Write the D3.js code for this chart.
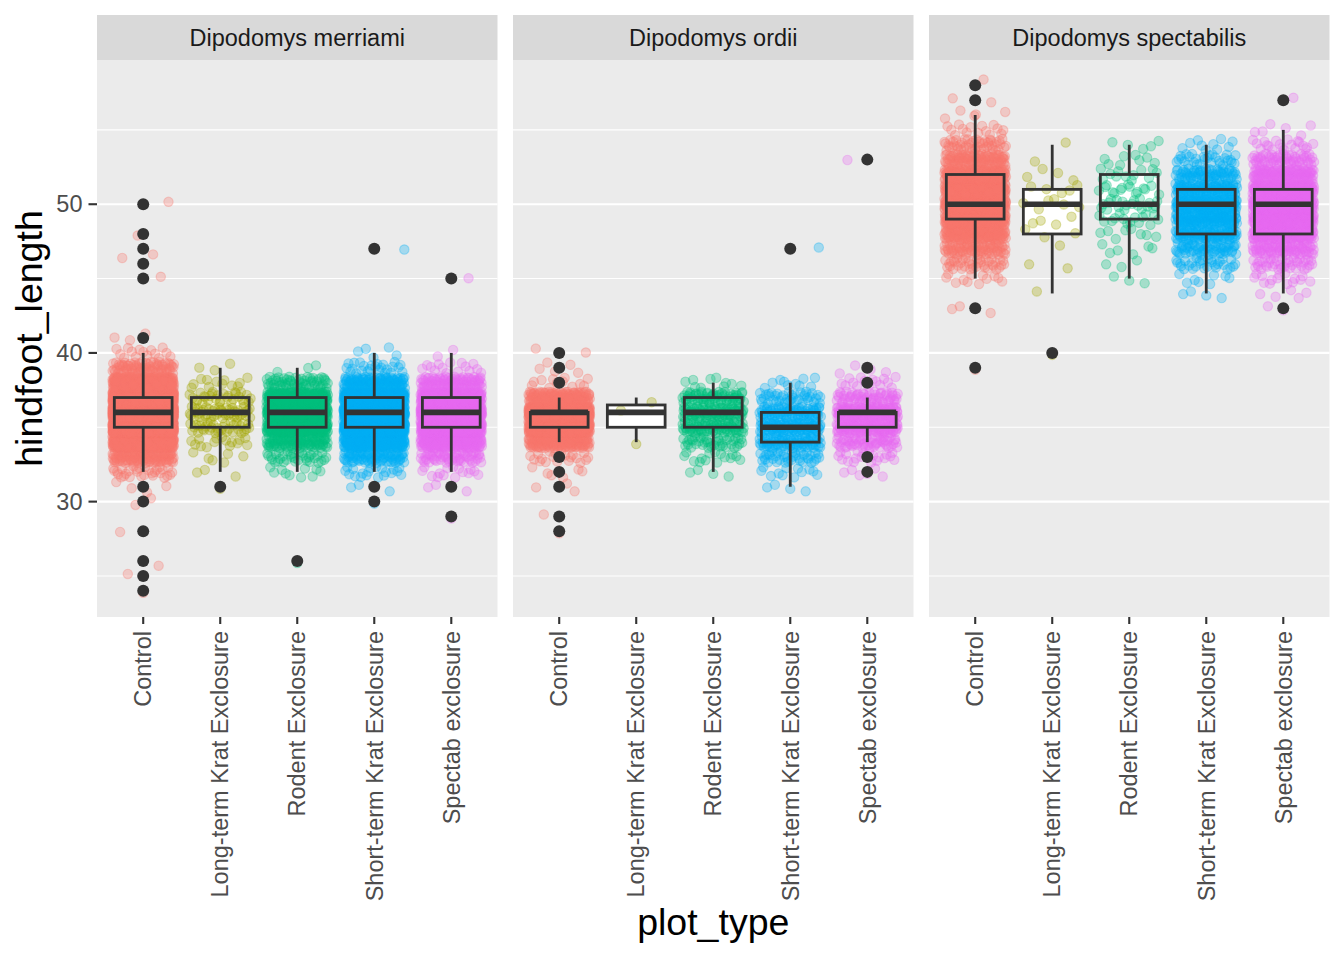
<!DOCTYPE html>
<html><head><meta charset="utf-8">
<script src="https://cdn.jsdelivr.net/npm/d3@7"></script>
<style>body{margin:0;background:#fff} svg{display:block} text{font-family:"Liberation Sans", Arial, Helvetica, sans-serif}</style>
</head><body><svg id="chart" width="1344" height="960"></svg>
<script>
// ---------------- data ----------------
const facets = ["Dipodomys merriami", "Dipodomys ordii", "Dipodomys spectabilis"];
const plotTypes = ["Control", "Long-term Krat Exclosure", "Rodent Exclosure", "Short-term Krat Exclosure", "Spectab exclosure"];
const typeColors = ["#F8766D", "#A3A500", "#00BF7D", "#00B0F6", "#E76BF3"];
const yMajorTicks = [30, 40, 50];
const yMinorTicks = [25, 35, 45, 55];
const yLimits = [22.24, 59.70];

// hindfoot_length counts per plot type: [value, count]
const merriamiCounts = [
  [[24,1],[25,1],[26,1],[28,1],[30,2],[31,4],[32,30],[33,120],[34,400],[35,900],[36,1200],[37,800],[38,300],[39,80],[40,15],[41,3],[45,1],[46,1],[47,1],[48,1],[50,1]],
  [[31,1],[32,3],[33,6],[34,15],[35,35],[36,45],[37,30],[38,12],[39,3]],
  [[26,1],[32,10],[33,35],[34,100],[35,240],[36,300],[37,200],[38,60],[39,3]],
  [[30,1],[31,3],[32,20],[33,80],[34,220],[35,450],[36,550],[37,380],[38,120],[39,25],[40,5],[47,1]],
  [[29,1],[31,3],[32,15],[33,60],[34,180],[35,380],[36,450],[37,300],[38,100],[39,15],[40,2],[45,1]]
];
const ordiiCounts = [
  [[28,1],[29,1],[31,3],[32,6],[33,20],[34,150],[35,450],[36,600],[37,150],[38,12],[39,5],[40,2]],
  [[34,1],[36,1],[37,1]],
  [[32,4],[33,15],[34,40],[35,80],[36,90],[37,70],[38,10]],
  [[31,4],[32,12],[33,40],[34,80],[35,100],[36,80],[37,40],[38,10],[47,1]],
  [[32,6],[33,20],[34,60],[35,120],[36,150],[37,60],[38,15],[39,4],[53,1]]
];
const spectabilisCounts = [
  [[39,1],[43,3],[45,12],[46,40],[47,80],[48,150],[49,220],[50,280],[51,220],[52,170],[53,100],[54,50],[55,15],[56,5],[57,2],[58,1]],
  [[40,1],[44,1],[46,2],[47,1],[48,3],[49,4],[50,6],[51,5],[52,4],[53,1],[54,1]],
  [[45,3],[46,3],[47,6],[48,8],[49,15],[50,20],[51,15],[52,12],[53,8],[54,5]],
  [[44,4],[45,8],[46,30],[47,60],[48,100],[49,130],[50,150],[51,110],[52,70],[53,30],[54,10]],
  [[43,2],[44,5],[45,15],[46,40],[47,80],[48,150],[49,200],[50,230],[51,180],[52,120],[53,60],[54,20],[55,6],[57,1]]
];

// box stats: [lower whisker, q1, median, q3, upper whisker]
const merriamiBoxes = [[32,35,36,37,40],[32,35,36,37,39],[32,35,36,37,39],[32,35,36,37,40],[32,35,36,37,40]];
const ordiiBoxes = [[34,35,36,36,37],[34,35,36,36.5,37],[32,35,36,37,38],[31,34,35,36,38],[34,35,36,36,37]];
const spectabilisBoxes = [[45,49,50,52,56],[44,48,50,51,54],[45,49,50,52,54],[44,48,50,51,54],[44,48,50,51,55]];

const merriamiOutliers = [[24,25,26,28,30,31,41,45,46,47,48,50],[31],[26],[30,31,47],[29,31,45]];
const ordiiOutliers = [[28,29,31,32,33,38,39,40],[],[],[47],[32,33,38,39,53]];
const spectabilisOutliers = [[39,43,57,58],[40],[],[],[43,57]];

const countsByFacet = [merriamiCounts, ordiiCounts, spectabilisCounts];
const boxesByFacet = [merriamiBoxes, ordiiBoxes, spectabilisBoxes];
const outliersByFacet = [merriamiOutliers, ordiiOutliers, spectabilisOutliers];

// ---------------- layout ----------------
const svg = d3.select("#chart");
svg.append("rect").attr("width",1344).attr("height",960).attr("fill","#fff");

const panelTop = 60, panelBottom = 617, stripTop = 15;
const panelLefts = [97, 513, 929], panelW = 400.5;
const y = d3.scaleLinear().domain(yLimits).range([panelBottom, panelTop]);

const axisColor = "#333333", textColor = "#4D4D4D";
const tickFont = 23.5, titleFont = 37.5;

// deterministic low-discrepancy jitter (Halton sequence)
function halton(i, b) { let f = 1, r = 0; while (i > 0) { f /= b; r += f * (i % b); i = Math.floor(i / b); } return r; }

facets.forEach((facet, fi) => {
  const x0 = panelLefts[fi];
  const x = d3.scalePoint().domain(plotTypes).range([x0, x0 + panelW]).padding(0.6);
  const step = x.step();
  const boxW = 0.75 * step;
  const g = svg.append("g");

  // strip
  g.append("rect").attr("x", x0).attr("y", stripTop).attr("width", panelW).attr("height", panelTop - stripTop).attr("fill", "#D9D9D9");
  g.append("text").attr("x", x0 + panelW / 2).attr("y", (stripTop + panelTop) / 2).attr("dy", "0.35em")
    .attr("text-anchor", "middle").attr("font-size", tickFont).attr("fill", "#1A1A1A").text(facet);

  // panel
  g.append("rect").attr("x", x0).attr("y", panelTop).attr("width", panelW).attr("height", panelBottom - panelTop).attr("fill", "#EBEBEB");
  g.selectAll(".minor").data(yMinorTicks).join("line")
    .attr("x1", x0).attr("x2", x0 + panelW).attr("y1", d => y(d)).attr("y2", d => y(d))
    .attr("stroke", "#fff").attr("stroke-width", 1.05);
  g.selectAll(".major").data(yMajorTicks).join("line")
    .attr("x1", x0).attr("x2", x0 + panelW).attr("y1", d => y(d)).attr("y2", d => y(d))
    .attr("stroke", "#fff").attr("stroke-width", 2.1);

  const boxes = boxesByFacet[fi];
  // white box fill underneath
  g.selectAll(".boxbg").data(boxes).join("rect")
    .attr("x", (d, i) => x(plotTypes[i]) - boxW / 2).attr("width", boxW)
    .attr("y", d => y(d[3])).attr("height", d => y(d[1]) - y(d[3]))
    .attr("fill", "#fff");

  // jittered points
  const pts = [];
  countsByFacet[fi].forEach((pairs, ti) => {
    let k = 0;
    const cx = x(plotTypes[ti]);
    pairs.forEach(([v, c]) => {
      for (let j = 0; j < c; j++) {
        k++;
        pts.push({ t: ti, px: cx + (halton(k, 2) * 2 - 1) * 0.4 * step, v: v + (halton(k, 3) * 2 - 1) * 0.4 });
      }
    });
  });
  g.append("g").selectAll("circle").data(pts).join("circle")
    .attr("cx", d => d.px).attr("cy", d => y(d.v)).attr("r", 4.7)
    .attr("fill", d => typeColors[d.t]).attr("fill-opacity", 0.3)
    .attr("stroke", d => typeColors[d.t]).attr("stroke-opacity", 0.3).attr("stroke-width", 1.1);

  // box outlines, whiskers, medians
  const bg = g.append("g");
  boxes.forEach((b, i) => {
    const cx = x(plotTypes[i]);
    bg.append("line").attr("x1", cx).attr("x2", cx).attr("y1", y(b[3])).attr("y2", y(b[4])).attr("stroke", axisColor).attr("stroke-width", 2.8);
    bg.append("line").attr("x1", cx).attr("x2", cx).attr("y1", y(b[1])).attr("y2", y(b[0])).attr("stroke", axisColor).attr("stroke-width", 2.8);
    bg.append("rect").attr("x", cx - boxW / 2).attr("width", boxW).attr("y", y(b[3])).attr("height", y(b[1]) - y(b[3]))
      .attr("fill", "none").attr("stroke", axisColor).attr("stroke-width", 2.8);
    bg.append("line").attr("x1", cx - boxW / 2).attr("x2", cx + boxW / 2).attr("y1", y(b[2])).attr("y2", y(b[2]))
      .attr("stroke", axisColor).attr("stroke-width", 5.6);
    outliersByFacet[fi][i].forEach(o => {
      bg.append("circle").attr("cx", cx).attr("cy", y(o)).attr("r", 6).attr("fill", axisColor);
    });
  });

  // x axis
  const ax = g.append("g");
  plotTypes.forEach(pt => {
    ax.append("line").attr("x1", x(pt)).attr("x2", x(pt)).attr("y1", panelBottom).attr("y2", panelBottom + 7)
      .attr("stroke", axisColor).attr("stroke-width", 2.1);
    ax.append("text").attr("transform", `translate(${x(pt)},${panelBottom + 14}) rotate(-90)`)
      .attr("dy", "0.35em").attr("text-anchor", "end").attr("font-size", tickFont).attr("fill", textColor).text(pt);
  });
});

// y axis (left panel only)
const ya = svg.append("g");
yMajorTicks.forEach(t => {
  ya.append("line").attr("x1", panelLefts[0] - 8.5).attr("x2", panelLefts[0]).attr("y1", y(t)).attr("y2", y(t))
    .attr("stroke", axisColor).attr("stroke-width", 2.1);
  ya.append("text").attr("x", panelLefts[0] - 14.5).attr("y", y(t)).attr("dy", "0.35em")
    .attr("text-anchor", "end").attr("font-size", tickFont).attr("fill", textColor).text(t);
});

// axis titles
svg.append("text").attr("x", (panelLefts[0] + panelLefts[2] + panelW) / 2).attr("y", 935)
  .attr("text-anchor", "middle").attr("font-size", titleFont).attr("fill", "#000").text("plot_type");
svg.append("text").attr("transform", `translate(42,${(panelTop + panelBottom) / 2}) rotate(-90)`)
  .attr("text-anchor", "middle").attr("font-size", titleFont).attr("fill", "#000").text("hindfoot_length");
</script></body></html>
